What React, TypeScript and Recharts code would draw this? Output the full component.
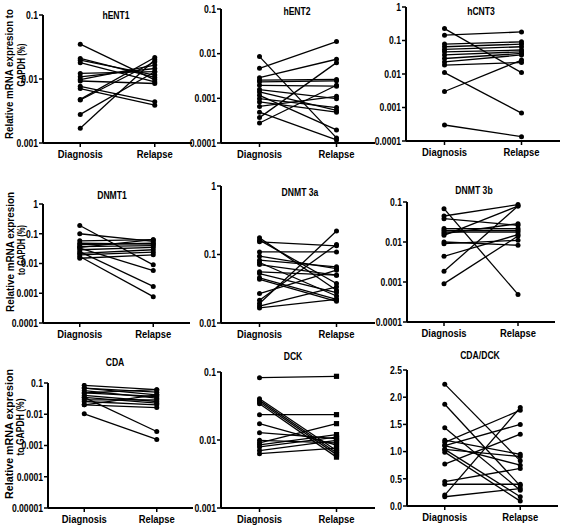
import React from "react";
import { LineChart, Line, XAxis, YAxis } from "recharts";

// paired samples per gene: index i of *Diagnosis matches index i of *Relapse
const categories = ["Diagnosis", "Relapse"];

const hENT1Diagnosis = [0.035, 0.021, 0.0197, 0.018, 0.0122, 0.0108, 0.0098, 0.0093, 0.0077, 0.0071, 0.0048, 0.0047, 0.0028, 0.0017];
const hENT1Relapse = [0.0097, 0.0106, 0.0115, 0.009, 0.013, 0.0146, 0.0165, 0.0085, 0.0044, 0.0039, 0.0217, 0.0186, 0.013, 0.02];

const hENT2Diagnosis = [0.0086, 0.0047, 0.0029, 0.00255, 0.00234, 0.00196, 0.00157, 0.00139, 0.00117, 0.00098, 0.00083, 0.00066, 0.00049, 0.00037, 0.00028];
const hENT2Relapse = [0.00013, 0.0187, 0.0075, 0.00264, 0.00246, 0.00187, 0.00098, 0.00054, 0.000196, 0.00062, 0.00049, 0.00111, 0.000117, 0.0063, 0.00196];

const hCNT3Diagnosis = [0.227, 0.144, 0.078, 0.065, 0.054, 0.046, 0.037, 0.029, 0.023, 0.0185, 0.011, 0.003, 0.0003];
const hCNT3Relapse = [0.011, 0.18, 0.091, 0.078, 0.065, 0.052, 0.046, 0.041, 0.037, 0.022, 0.00068, 0.026, 0.000135];

const dnmt1Diagnosis = [0.19, 0.1, 0.058, 0.048, 0.043, 0.037, 0.033, 0.029, 0.025, 0.022, 0.0196, 0.0172, 0.015, 0.035];
const dnmt1Relapse = [0.009, 0.055, 0.063, 0.045, 0.048, 0.04, 0.0058, 0.035, 0.0017, 0.029, 0.024, 0.00077, 0.0196, 0.063];

const dnmt3aDiagnosis = [0.175, 0.162, 0.153, 0.109, 0.0946, 0.0826, 0.0764, 0.0714, 0.0558, 0.0527, 0.0456, 0.0435, 0.0269, 0.0215, 0.0192, 0.0177, 0.0166];
const dnmt3aRelapse = [0.0301, 0.0377, 0.134, 0.109, 0.0624, 0.066, 0.0248, 0.0499, 0.0499, 0.0278, 0.0222, 0.0207, 0.059, 0.14, 0.22, 0.0337, 0.0222];

const dnmt3bDiagnosis = [0.068, 0.0447, 0.0383, 0.0216, 0.0196, 0.0178, 0.0162, 0.0147, 0.01, 0.0091, 0.0044, 0.00185, 0.00091];
const dnmt3bRelapse = [0.00049, 0.086, 0.0261, 0.0216, 0.0196, 0.0178, 0.0287, 0.079, 0.0083, 0.011, 0.0153, 0.079, 0.0141];

const cdaDiagnosis = [0.084, 0.069, 0.069, 0.057, 0.048, 0.048, 0.04, 0.0345, 0.0345, 0.029, 0.0256, 0.02, 0.02, 0.0103];
const cdaRelapse = [0.061, 0.051, 0.042, 0.0328, 0.037, 0.061, 0.0256, 0.0226, 0.0028, 0.029, 0.02, 0.0164, 0.042, 0.00156];

const dckDiagnosis = [0.0826, 0.0405, 0.0383, 0.0362, 0.0342, 0.0236, 0.0174, 0.0128, 0.0099, 0.0091, 0.0085, 0.0079, 0.007, 0.0063];
const dckRelapse = [0.0864, 0.007, 0.0065, 0.0061, 0.0056, 0.0236, 0.0084, 0.0105, 0.0091, 0.0174, 0.012, 0.011, 0.0099, 0.0076];

const ratioDiagnosis = [2.24, 1.87, 1.44, 1.21, 1.17, 1.11, 1.04, 1.04, 0.99, 0.77, 0.45, 0.4, 0.2, 0.17, 1.11];
const ratioRelapse = [0.83, 0.37, 0.29, 0.95, 1.76, 1.5, 0.91, 0.17, 0.09, 1.32, 0.69, 0.4, 1.81, 0.32, 0.75];

const ticks3 = [0.001, 0.01, 0.1];
const ticks4 = [0.0001, 0.001, 0.01, 0.1];
const ticks5 = [0.0001, 0.001, 0.01, 0.1, 1];
const ticks2 = [0.01, 0.1, 1];
const ticksCda = [0.00001, 0.0001, 0.001, 0.01, 0.1];
const ticksRatio = [0, 0.5, 1, 1.5, 2, 2.5];

const FONT = '"Liberation Sans", Arial, sans-serif';
const SQUEEZE = 0.82;

const panels = [
  { title: "hENT1", diag: hENT1Diagnosis, rel: hENT1Relapse, ticks: ticks3, log: true, x0: 43, x1: 192, y0: 15, y1: 143, tx: 116, ty: 15 },
  { title: "hENT2", diag: hENT2Diagnosis, rel: hENT2Relapse, ticks: ticks4, log: true, x0: 221, x1: 375, y0: 9, y1: 143, tx: 297, ty: 11 },
  { title: "hCNT3", diag: hCNT3Diagnosis, rel: hCNT3Relapse, ticks: ticks5, log: true, x0: 406, x1: 560, y0: 7, y1: 141, tx: 481, ty: 11 },
  { title: "DNMT1", diag: dnmt1Diagnosis, rel: dnmt1Relapse, ticks: ticks5, log: true, x0: 43, x1: 190, y0: 204, y1: 323, tx: 112, ty: 195 },
  { title: "DNMT 3a", diag: dnmt3aDiagnosis, rel: dnmt3aRelapse, ticks: ticks2, log: true, x0: 221, x1: 375, y0: 186, y1: 323, tx: 300, ty: 192 },
  { title: "DNMT 3b", diag: dnmt3bDiagnosis, rel: dnmt3bRelapse, ticks: ticks4, log: true, x0: 407, x1: 555, y0: 202, y1: 322, tx: 474, ty: 190 },
  { title: "CDA", diag: cdaDiagnosis, rel: cdaRelapse, ticks: ticksCda, log: true, x0: 48, x1: 193, y0: 383, y1: 508, tx: 115, ty: 362 },
  { title: "DCK", diag: dckDiagnosis, rel: dckRelapse, ticks: ticks3, log: true, x0: 221, x1: 375, y0: 372, y1: 508, tx: 293, ty: 356, squareRelapse: true },
  { title: "CDA/DCK", diag: ratioDiagnosis, rel: ratioRelapse, ticks: ticksRatio, log: false, x0: 407, x1: 558, y0: 370, y1: 506, tx: 480, ty: 355 },
];

const rowLabels = [
  { lines: ["Relative mRNA expresion to", "GAPDH (%)"], xs: [9, 20.5], cys: [74, 65], lens: [130, 43] },
  { lines: ["Relative mRNA expresion", "to GAPDH (%)"], xs: [9.5, 20.5], cys: [252, 250], lens: [120, 50] },
  { lines: ["Relative mRNA expresion", "to GAPDH (%)"], xs: [8.5, 19.5], cys: [434, 427], lens: [130, 57] },
];

function makeDot(square: boolean) {
  return (props: any) => {
    const { cx, cy, index, key } = props;
    if (cx == null || cy == null) return <g key={key} />;
    if (square && index === 1) {
      return <rect key={key} x={cx - 2.6} y={cy - 2.6} width={5.2} height={5.2} fill="#000" />;
    }
    return <circle key={key} cx={cx} cy={cy} r={2.5} fill="#000" />;
  };
}

function XTick(props: any) {
  const { x, y, payload } = props;
  return (
    <g transform={`translate(${x},${y})`}>
      <text transform={`scale(${SQUEEZE},1)`} textAnchor="middle" dy="0.75em" fontSize={11.5} fontWeight="bold" fontFamily={FONT} fill="#000">
        {categories[payload.value]}
      </text>
    </g>
  );
}

function makeYTick(log: boolean) {
  return (props: any) => {
    const { x, y, payload } = props;
    const label = log ? String(payload.value) : Number(payload.value).toFixed(1);
    return (
      <g transform={`translate(${x},${y})`}>
        <text transform={`scale(${SQUEEZE},1)`} textAnchor="end" dy="0.36em" fontSize={10.5} fontWeight="bold" fontFamily={FONT} fill="#000">
          {label}
        </text>
      </g>
    );
  };
}

function Panel({ p }: { p: any }) {
  const YW = 44;
  const MT = 8;
  const XH = 24;
  const width = YW + (p.x1 - p.x0) + 3;
  const height = MT + (p.y1 - p.y0) + XH;
  const data = [0, 1].map((x) => {
    const row: any = { x };
    p.diag.forEach((d: number, i: number) => {
      row[`p${i}`] = x === 0 ? d : p.rel[i];
    });
    return row;
  });
  const dot = makeDot(!!p.squareRelapse);
  const lo = p.ticks[0];
  const hi = p.ticks[p.ticks.length - 1];

  return (
    <div style={{ position: "absolute", left: p.x0 - YW, top: p.y0 - MT }}>
      <LineChart width={width} height={height} data={data} margin={{ top: MT, right: 3, bottom: 0, left: 0 }}>
        <XAxis
          type="number"
          dataKey="x"
          domain={[-0.5, 1.5]}
          ticks={[0, 1]}
          allowDataOverflow
          height={XH}
          axisLine={{ stroke: "#000", strokeWidth: 2 }}
          tickLine={{ stroke: "#000", strokeWidth: 1.5 }}
          tickSize={4}
          tick={<XTick />}
        />
        <YAxis
          type="number"
          scale={p.log ? "log" : "linear"}
          domain={[lo, hi]}
          ticks={p.ticks}
          allowDataOverflow
          interval={0}
          width={YW}
          axisLine={{ stroke: "#000", strokeWidth: 2 }}
          tickLine={{ stroke: "#000", strokeWidth: 1.5 }}
          tickSize={4}
          tickMargin={1}
          tick={makeYTick(p.log)}
        />
        {p.diag.map((_: number, i: number) => (
          <Line
            key={i}
            dataKey={`p${i}`}
            stroke="#000"
            strokeWidth={1.3}
            dot={dot}
            activeDot={false}
            isAnimationActive={false}
          />
        ))}
      </LineChart>
    </div>
  );
}

export default function App() {
  return (
    <div
      style={{
        position: "absolute",
        left: 0,
        top: 0,
        width: 563,
        height: 529,
        background: "#fff",
        fontFamily: FONT,
        color: "#000",
      }}
    >
      <svg width={563} height={529} style={{ position: "absolute", left: 0, top: 0 }}>
        {rowLabels.map((r) =>
          r.lines.map((t, j) => (
            <text
              key={r.cys[j] + t}
              transform={`translate(${r.xs[j]},${r.cys[j]}) rotate(-90)`}
              textAnchor="middle"
              dominantBaseline="central"
              fontSize={11}
              fontWeight="bold"
              fontFamily={FONT}
              textLength={r.lens[j]}
              lengthAdjust="spacingAndGlyphs"
            >
              {t}
            </text>
          ))
        )}
        {panels.map((p) => (
          <g key={p.title} transform={`translate(${p.tx},${p.ty})`}>
            <text
              transform={`scale(${SQUEEZE},1)`}
              textAnchor="middle"
              dominantBaseline="central"
              fontSize={10.5}
              fontWeight="bold"
              fontFamily={FONT}
            >
              {p.title}
            </text>
          </g>
        ))}
      </svg>
      {panels.map((p) => (
        <Panel key={p.title} p={p} />
      ))}
    </div>
  );
}
